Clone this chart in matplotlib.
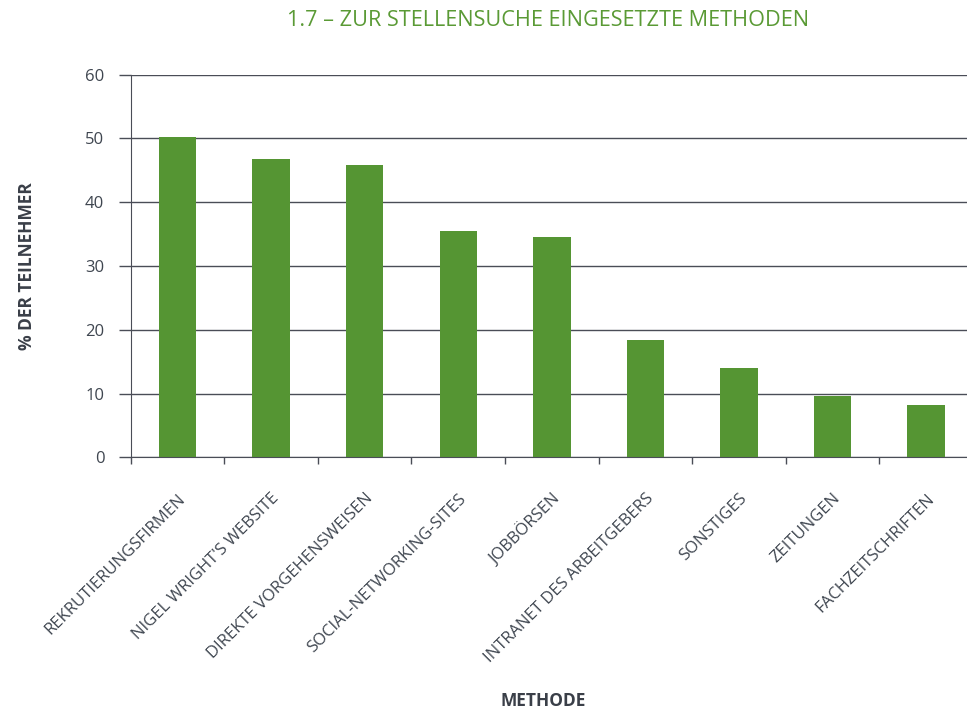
import matplotlib
matplotlib.use("Agg")
import matplotlib.pyplot as plt
import numpy as np

categories = ["REKRUTIERUNGSFIRMEN", "NIGEL WRIGHT'S WEBSITE", "DIREKTE VORGEHENSWEISEN",
              "SOCIAL-NETWORKING-SITES", "JOBBÖRSEN", "INTRANET DES ARBEITGEBERS",
              "SONSTIGES", "ZEITUNGEN", "FACHZEITSCHRIFTEN"]
values = [50.2, 46.8, 45.8, 35.5, 34.5, 18.4, 14.0, 9.6, 8.2]
yticks = [0, 10, 20, 30, 40, 50, 60]

plt.rcParams['font.family'] = ['Open Sans', 'DejaVu Sans']

W, H = 967, 712
fig = plt.figure(figsize=(W/100, H/100), dpi=100)
left, right, top, bottom = 130.7, 973, 74.7, 457.3
ax = fig.add_axes([left/W, 1 - bottom/H, (right-left)/W, (bottom-top)/H])

green = "#559533"
grid = "#4a4d57"
txt = "#3f4650"

x = np.arange(len(categories))
ax.bar(x, values, width=0.40, color=green, zorder=3)
ax.set_xlim(-0.5, len(categories) - 0.5)
ax.set_ylim(0, 60)
ax.set_yticks(yticks)
ax.set_yticklabels([str(v) for v in yticks], color=txt, fontsize=12)
ax.yaxis.grid(True, color=grid, linewidth=1.0, zorder=1)
ax.set_xticks(np.arange(len(categories) + 1) - 0.5, minor=False)
ax.set_xticklabels([])
ax.set_xticks(x, minor=True)
ax.set_xticklabels(categories, minor=True, rotation=45, ha='right', rotation_mode='anchor',
                   color=txt, fontsize=12)
ax.tick_params(axis='x', which='minor', length=0, pad=24)
ax.tick_params(axis='x', which='major', length=5, color=grid, width=1)
ax.tick_params(axis='y', length=9, color=grid, width=1, pad=10)

for s in ['top', 'right']:
    ax.spines[s].set_visible(False)
ax.spines['left'].set_color(grid)
ax.spines['bottom'].set_color(grid)
ax.spines['bottom'].set_zorder(4)

fig.text(548/W, 1 - 20/H, "1.7 – ZUR STELLENSUCHE EINGESETZTE METHODEN", color="#5a9a35",
         fontsize=15.6, ha='center', va='center')
fig.text(27/W, 1 - 266/H, "% DER TEILNEHMER", color="#3a3f48", fontsize=12.5,
         fontweight='bold', rotation=90, ha='center', va='center')
fig.text(543/W, 1 - 701/H, "METHODE", color="#3a3f48", fontsize=12.5,
         fontweight='bold', ha='center', va='center')

fig.savefig("out.png", dpi=100)
